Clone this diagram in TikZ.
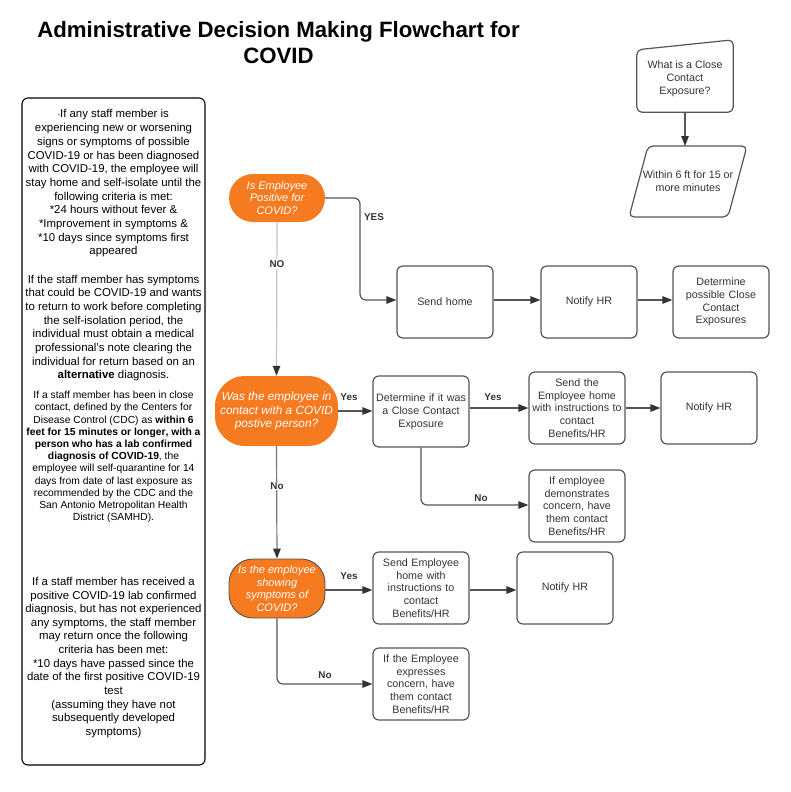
\documentclass[tikz,border=0pt]{standalone}
\usepackage{fontspec}
\setmainfont{Liberation Sans}
\usetikzlibrary{arrows.meta,positioning}
\definecolor{orng}{HTML}{F57A20}
\definecolor{edge}{HTML}{555555}
\definecolor{txt}{HTML}{333333}
\definecolor{lgray}{HTML}{C4C4C4}
\tikzset{
  x=1pt,y=-1pt,
  box/.style={draw=edge,line width=1.2pt,rounded corners=6pt,minimum width=96pt,minimum height=72pt,inner sep=2pt,align=center,text width=92pt,text=txt,font=\fontsize{10.7}{12.8}\selectfont},
  dec/.style={fill=orng,text=white,align=center,inner sep=2pt,font=\fontsize{11}{12.6}\selectfont\itshape},
  conn/.style={draw=edge,line width=1.2pt,-{Triangle[length=10pt,width=7.5pt,color=txt]},rounded corners=6pt},
  lab/.style={font=\fontsize{9.9}{11}\selectfont\bfseries,text=txt,inner sep=1pt},
  side/.style={align=center,text=black,inner sep=0pt}
}
\begin{document}
\begin{tikzpicture}
\useasboundingbox[fill=white] (0,0) rectangle (791,792);
% title
\node[font=\fontsize{22.2}{26}\selectfont\bfseries,align=center] (title) at (278.5,43) {Administrative Decision Making Flowchart for\\COVID};
% left panel
\draw[line width=1.1pt,rounded corners=6pt] (22,98) rectangle (205,765);
\node[side,font=\fontsize{11.4}{13.7}\selectfont] (t1) at (113.5,183.5) {{\tiny *}If any staff member is\\experiencing new or worsening\\signs or symptoms of possible\\COVID-19 or has been diagnosed\\with COVID-19, the employee will\\stay home and self-isolate until the\\following criteria is met:\\*24 hours without fever \&\\*Improvement in symptoms \&\\*10 days since symptoms first\\appeared};
\node[side,font=\fontsize{11.4}{13.7}\selectfont] (t2) at (113.5,328) {If the staff member has symptoms\\that could be COVID-19 and wants\\to return to work before completing\\the self-isolation period, the\\individual must obtain a medical\\professional’s note clearing the\\individual for return based on an\\\textbf{alternative} diagnosis.};
\node[side,font=\fontsize{10.3}{12.2}\selectfont] (t3) at (113.5,457) {If a staff member has been in close\\contact, defined by the Centers for\\Disease Control (CDC) as \textbf{within 6}\\\textbf{feet for 15 minutes or longer}\textbf{, with a}\\\textbf{person who has a lab confirmed}\\\textbf{diagnosis of COVID-19}, the\\employee will self-quarantine for 14\\days from date of last exposure as\\recommended by the CDC and the\\San Antonio Metropolitan Health\\District (SAMHD).};
\node[side,font=\fontsize{11.4}{13.65}\selectfont] (t4) at (113.5,657.5) {If a staff member has received a\\positive COVID-19 lab confirmed\\diagnosis, but has not experienced\\any symptoms, the staff member\\may return once the following\\criteria has been met:\\*10 days have passed since the\\date of the first positive COVID-19\\test\\(assuming they have not\\subsequently developed\\symptoms)};
% top right
\node[inner sep=0pt,minimum width=96pt,minimum height=72pt,align=center,text=txt,font=\fontsize{10.7}{12.8}\selectfont] (q) at (685,76) {\\What is a Close\\Contact\\Exposure?};
\draw[draw=edge,line width=1.2pt,rounded corners=5pt] (q.south west) -- ([yshift=-10pt]q.north west) -- (q.north east) -- (q.south east) -- cycle;
\node[inner sep=0pt,minimum width=100pt,minimum height=71pt,align=center,text=txt,font=\fontsize{10.7}{12.8}\selectfont] (w) at (688,181.5) {Within 6 ft for 15 or\\more minutes};
\draw[draw=edge,line width=1.2pt,rounded corners=5pt] (648,146) -- (747,146) -- (728,217) -- (629,217) -- cycle;
\draw[conn] (q.south) -- (685,146);
% decisions
\node[dec,rounded corners=24pt,minimum width=96pt,minimum height=48pt] (d1) at (277,198) {Is Employee\\Positive for\\COVID?};
\node[dec,font=\fontsize{11.8}{13.2}\selectfont\itshape,rounded corners=30pt,minimum width=123pt,minimum height=70pt] (d2) at (276.5,411) {Was the employee in\\contact with a COVID\\postive person?};
\node[dec,draw=edge,line width=0.9pt,rounded corners=24pt,minimum width=96pt,minimum height=59pt] (d3) at (277,588.5) {Is the employee\\showing\\symptoms of\\COVID?};
% row 1
\node[box] (sh) at (445,302) {Send home};
\node[box] (nh1) at (589,302) {Notify HR};
\node[box] (dp) at (721,302) {Determine\\possible Close\\Contact\\Exposures};
% row 2
\node[box,minimum height=71pt] (dc) at (421,411.5) {Determine if it was\\a Close Contact\\Exposure};
\node[box] (se) at (577,408) {Send the\\Employee home\\with instructions to\\contact\\Benefits/HR};
\node[box] (nh2) at (709,408) {Notify HR};
\node[box] (ie) at (577,506) {If employee\\demonstrates\\concern, have\\them contact\\Benefits/HR};
% row 3
\node[box] (se2) at (421,588) {Send Employee\\home with\\instructions to\\contact\\Benefits/HR};
\node[box] (nh3) at (565,588) {Notify HR};
\node[box] (ie2) at (421,684) {If the Employee\\expresses\\concern, have\\them contact\\Benefits/HR};
% connectors
\draw[conn] (d1.east) -- (360,198) -- (360,300) -- (sh.west |- 0,300);
\node[lab] (lyes1) at (374,217) {YES};
\draw[conn] (sh.east |- 0,300) -- (nh1.west |- 0,300);
\draw[conn] (nh1.east |- 0,300) -- (dp.west |- 0,300);
\draw[conn,draw=lgray] (d1.south) -- (d2.north);
\node[lab,fill=white] (lno1) at (277,264) {NO};
\draw[conn] (d2.east) -- (dc.west |- d2.east);
\node[lab] (lyes2) at (349,397) {Yes};
\draw[conn] (dc.east |- 0,408) -- (se.west);
\node[lab] (lyes3) at (493,397) {Yes};
\draw[conn] (se.east) -- (nh2.west);
\draw[conn] (dc.south) -- (421,505) -- (ie.west |- 0,505);
\node[lab] (lno2) at (481,498) {No};
\draw[conn,draw=edge!80] (d2.south) -- (d3.north);
\node[lab,fill=white] (lno3) at (277,486) {No};
\draw[conn] (d3.east |- 0,590) -- (se2.west |- 0,590);
\node[lab] (lyes4) at (349,576) {Yes};
\draw[conn] (se2.east |- 0,590) -- (nh3.west |- 0,590);
\draw[conn] (d3.south) -- (277,684) -- (ie2.west |- 0,684);
\node[lab] (lno4) at (325,675) {No};
\end{tikzpicture}
\end{document}
